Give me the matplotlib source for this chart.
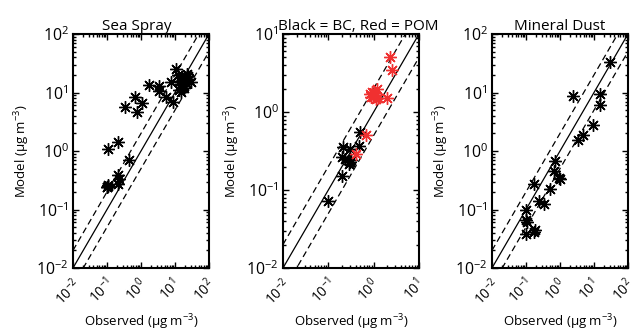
import numpy as np
import matplotlib
matplotlib.use("Agg")
import matplotlib.pyplot as plt
import matplotlib.transforms as mtransforms
from matplotlib.ticker import LogLocator, NullFormatter

plt.rcParams['font.family'] = ['Open Sans', 'DejaVu Sans']
plt.rcParams['mathtext.fontset'] = 'custom'
plt.rcParams['mathtext.rm'] = 'Open Sans'
plt.rcParams['mathtext.it'] = 'Open Sans:italic'

titles = ["Sea Spray", "Black = BC, Red = POM", "Mineral Dust"]
limits = [(1e-2, 1e2), (1e-2, 1e1), (1e-2, 1e2)]

sea_obs = [0.107, 0.21, 0.10, 0.107, 0.11, 0.10, 0.21, 0.21, 0.22, 0.43, 0.33, 0.65, 0.76, 1.1,
           1.7, 3.3, 3.5, 5.6, 8.7, 7.8, 11, 13.7, 17, 21, 30, 15, 12, 24, 14, 18, 16, 20,
           26, 13, 19, 22, 15, 17]
sea_mod = [1.07, 1.45, 0.245, 0.25, 0.26, 0.24, 0.39, 0.27, 0.33, 0.70, 5.75, 8.5, 4.6, 6.7,
           13.5, 12.7, 10.7, 8.5, 7.0, 15.4, 25, 13.5, 17, 14.7, 15.4, 10.4, 20, 19, 16, 12,
           18, 16, 17, 11, 13, 21, 14, 15]

bc_obs = [0.1, 0.196, 0.196, 0.21, 0.3, 0.28, 0.32, 0.3, 0.48, 0.5, 0.23]
bc_mod = [0.073, 0.153, 0.263, 0.354, 0.227, 0.216, 0.24, 0.337, 0.37, 0.56, 0.25]
pom_obs = [0.4, 0.69, 2.28, 2.48, 1.93, 1.16, 0.9, 0.83, 0.98, 1.05, 1.15, 0.88, 1.25, 1.0]
pom_mod = [0.29, 0.51, 5.1, 3.44, 1.51, 2.0, 1.8, 1.72, 1.56, 1.65, 1.45, 1.55, 1.5, 1.75]

dust_obs = [30, 15.4, 15.4, 2.4, 9.4, 4.76, 3.3, 0.73, 0.65, 0.91, 1.0, 0.52, 0.176, 0.236,
            0.33, 0.1, 0.1, 0.18, 0.1, 0.11, 0.17]
dust_mod = [33, 9.4, 6.0, 8.8, 2.75, 1.86, 1.52, 0.67, 0.45, 0.35, 0.33, 0.22, 0.27, 0.139,
            0.125, 0.1, 0.067, 0.045, 0.038, 0.06, 0.042]

fig = plt.figure(figsize=(6.36, 3.36), dpi=100)
lefts = [73/636, 283/636, 492/636]
bottom = (336-268)/336
w = 136/636
h = 234/336

series = [
    [(sea_obs, sea_mod, 'black')],
    [(bc_obs, bc_mod, 'black'), (pom_obs, pom_mod, '#f03030')],
    [(dust_obs, dust_mod, 'black')],
]
title_x = [0.47, 0.55, 0.5]

ast = (8, 2, 0)
shift = mtransforms.ScaledTranslation(-5/100, 0, fig.dpi_scale_trans)
for i in range(3):
    ax = fig.add_axes([lefts[i], bottom, w, h])
    lo, hi = limits[i]
    ax.set_xscale('log')
    ax.set_yscale('log')
    xx = np.array([lo, hi])
    ax.plot(xx, xx, color='black', lw=0.9)
    ax.plot(xx, 2*xx, color='black', lw=0.9, ls=(0, (5, 3)))
    ax.plot(xx, 0.5*xx, color='black', lw=0.9, ls=(0, (5, 3)))
    for (xo, ym, c) in series[i]:
        ax.plot(xo, ym, ls='none', marker=ast, ms=9, mew=1.0, color=c)
    exps = np.arange(int(np.log10(lo)), int(np.log10(hi)) + 1)
    ticks = 10.0 ** exps
    labels = ['$10^{%d}$' % e for e in exps]
    ax.set_xticks(ticks, labels, rotation=45, ha='center', va='top', fontsize=10)
    ax.set_yticks(ticks, labels, fontsize=11.5)
    ax.xaxis.set_minor_locator(LogLocator(base=10, subs=np.arange(2, 10), numticks=10))
    ax.yaxis.set_minor_locator(LogLocator(base=10, subs=np.arange(2, 10), numticks=10))
    ax.xaxis.set_minor_formatter(NullFormatter())
    ax.yaxis.set_minor_formatter(NullFormatter())
    ax.set_xlim(lo, hi)
    ax.set_ylim(lo, hi)
    ax.tick_params(which='both', direction='in', top=True, right=True, width=1.0)
    ax.tick_params(which='major', length=4)
    ax.tick_params(axis='y', which='major', pad=3)
    ax.tick_params(axis='x', which='major', pad=5)
    ax.tick_params(which='minor', length=2)
    for lab in ax.get_xticklabels():
        lab.set_transform(lab.get_transform() + shift)
    for s in ax.spines.values():
        s.set_linewidth(1.5)
    ax.set_title(titles[i], fontsize=11, pad=1, x=title_x[i])
    ax.set_xlabel('Observed (μg m$^{-3}$)', fontsize=9.5)
    ax.xaxis.set_label_coords(0.5, -0.19)
    ax.set_ylabel('Model (μg m$^{-3}$)', fontsize=9.5, labelpad=3)

fig.savefig('out.png', dpi=100)
